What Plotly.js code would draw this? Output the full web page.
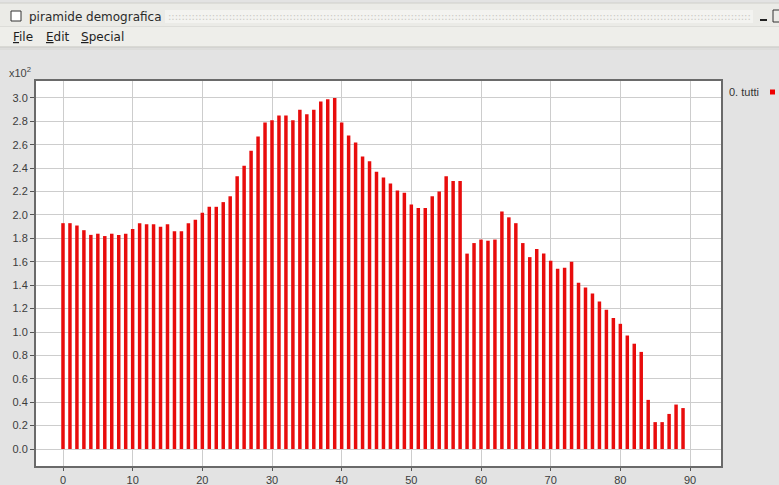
<!DOCTYPE html>
<html>
<head>
<meta charset="utf-8">
<script src="https://cdn.plot.ly/plotly-3.0.1.min.js"></script>
<style>html,body{margin:0;padding:0;background:#e3e3e3;overflow:hidden}#chart{width:779px;height:485px}</style>
</head>
<body>
<div id="chart"></div>
<script>
// Age classes (x categories)
const ages = [0,1,2,3,4,5,6,7,8,9,10,11,12,13,14,15,16,17,18,19,20,21,22,23,24,25,26,27,28,29,
  30,31,32,33,34,35,36,37,38,39,40,41,42,43,44,45,46,47,48,49,50,51,52,53,54,55,56,57,58,59,
  60,61,62,63,64,65,66,67,68,69,70,71,72,73,74,75,76,77,78,79,80,81,82,83,84,85,86,87,88,89];
// Population per age, in units of 10^2 (series "0. tutti")
const tutti = [1.93,1.93,1.91,1.87,1.83,1.84,1.82,1.84,1.83,1.84,
  1.88,1.93,1.92,1.92,1.90,1.92,1.86,1.86,1.93,1.96,
  2.02,2.07,2.07,2.11,2.16,2.33,2.42,2.55,2.67,2.79,
  2.81,2.85,2.85,2.81,2.90,2.86,2.90,2.97,2.99,3.00,
  2.79,2.68,2.62,2.50,2.46,2.37,2.32,2.27,2.21,2.19,
  2.09,2.06,2.06,2.16,2.20,2.33,2.29,2.29,1.67,1.76,
  1.79,1.78,1.79,2.03,1.98,1.93,1.76,1.64,1.71,1.67,
  1.61,1.54,1.55,1.60,1.42,1.38,1.33,1.26,1.19,1.12,
  1.07,0.97,0.90,0.83,0.42,0.23,0.23,0.30,0.38,0.35];
const xTicks = [0,10,20,30,40,50,60,70,80,90];
const yTicks = [0,0.2,0.4,0.6,0.8,1.0,1.2,1.4,1.6,1.8,2.0,2.2,2.4,2.6,2.8,3.0];
const yTickText = ['0.0','0.2','0.4','0.6','0.8','1.0','1.2','1.4','1.6','1.8','2.0','2.2','2.4','2.6','2.8','3.0'];
const seriesName = '0. tutti';
const windowTitle = 'piramide demografica';
const menuItems = ['<u>F</u>ile','<u>E</u>dit','<u>S</u>pecial'];

const W = 779, H = 485;
const M = {l:36, r:58, t:81, b:19};
const pw = W - M.l - M.r, ph = H - M.t - M.b;
const PX = x => (x - M.l) / pw;
const PY = y => (H - M.b - y) / ph;

const font = 'Liberation Sans, Arial, sans-serif';
const uiFont = 'DejaVu Sans, sans-serif';

const shapes = [
  // title bar
  {type:'rect', xref:'paper', yref:'paper', x0:PX(-2), x1:PX(W+2), y0:PY(3), y1:PY(27), fillcolor:'#ebebe7', line:{color:'#cfcfca', width:1}, layer:'below'},
  // dotted band
  {type:'rect', xref:'paper', yref:'paper', x0:PX(165), x1:PX(753), y0:PY(10), y1:PY(23), fillcolor:'#f3f3f0', line:{width:0}, layer:'below'},
  // checkbox
  {type:'rect', xref:'paper', yref:'paper', x0:PX(11), x1:PX(21), y0:PY(11), y1:PY(21), fillcolor:'#ffffff', line:{color:'#333333', width:1}},
  // right-hand window button (partial)
  {type:'rect', xref:'paper', yref:'paper', x0:PX(773), x1:PX(785), y0:PY(10), y1:PY(22), fillcolor:'rgba(0,0,0,0)', line:{color:'#333333', width:1}},
  {type:'line', xref:'paper', yref:'paper', x0:PX(760), x1:PX(767), y0:PY(20), y1:PY(20), line:{color:'#222222', width:2}},
  // menu bar
  {type:'rect', xref:'paper', yref:'paper', x0:PX(-2), x1:PX(W+2), y0:PY(27), y1:PY(47), fillcolor:'#eeeeea', line:{width:0}, layer:'below'},
  {type:'line', xref:'paper', yref:'paper', x0:PX(0), x1:PX(W), y0:PY(47), y1:PY(47), line:{color:'#c4c4bf', width:1}},
  {type:'line', xref:'paper', yref:'paper', x0:PX(0), x1:PX(W), y0:PY(49), y1:PY(49), line:{color:'#d6d6d2', width:1}},
  // legend swatch
  {type:'rect', xref:'paper', yref:'paper', x0:PX(770), x1:PX(775), y0:PY(89.5), y1:PY(94.5), fillcolor:'#ee0000', line:{width:0}}
];

let dots = '';
for (let i = 0; i < 173; i++) dots += ':';

const annotations = [
  {xref:'paper', yref:'paper', x:PX(27), y:PY(17), xanchor:'left', yanchor:'middle', showarrow:false, text:windowTitle, font:{family:uiFont, size:12, color:'#2a2a2a'}},
  {xref:'paper', yref:'paper', x:PX(166), y:PY(16.5), xanchor:'left', yanchor:'middle', showarrow:false, text:dots, font:{family:uiFont, size:10, color:'#c9c9c4'}},
  {xref:'paper', yref:'paper', x:PX(11), y:PY(37), xanchor:'left', yanchor:'middle', showarrow:false, text:menuItems[0], font:{family:uiFont, size:12, color:'#1e1e1e'}},
  {xref:'paper', yref:'paper', x:PX(44), y:PY(37), xanchor:'left', yanchor:'middle', showarrow:false, text:menuItems[1], font:{family:uiFont, size:12, color:'#1e1e1e'}},
  {xref:'paper', yref:'paper', x:PX(79), y:PY(37), xanchor:'left', yanchor:'middle', showarrow:false, text:menuItems[2], font:{family:uiFont, size:12, color:'#1e1e1e'}},
  {xref:'paper', yref:'paper', x:PX(7), y:PY(72), xanchor:'left', yanchor:'middle', showarrow:false, text:'x10<sup>2</sup>', font:{family:font, size:11, color:'#444444'}},
  {xref:'paper', yref:'paper', x:PX(727), y:PY(92), xanchor:'left', yanchor:'middle', showarrow:false, text:seriesName, font:{family:font, size:11, color:'#333333'}}
];

const trace = {
  type:'bar', x:ages, y:tutti, name:seriesName,
  width:0.5,
  marker:{color:'#e80c0c', line:{width:0}},
  hoverinfo:'x+y', showlegend:false
};

const layout = {
  width:W, height:H, margin:M,
  paper_bgcolor:'#e3e3e3', plot_bgcolor:'#ffffff',
  bargap:0.3,
  xaxis:{range:[-3.875,94.45], tickmode:'array', tickvals:xTicks, ticktext:xTicks.map(String),
    showgrid:true, gridcolor:'#cdcdcd', gridwidth:1, zeroline:false,
    showline:true, linecolor:'#6a6a6a', linewidth:2, mirror:true,
    ticks:'outside', ticklen:3, tickcolor:'#555555',
    tickfont:{family:font, size:11, color:'#3c3c3c'}, fixedrange:true},
  yaxis:{range:[-0.145,3.145], tickmode:'array', tickvals:yTicks, ticktext:yTickText,
    showgrid:true, gridcolor:'#cdcdcd', gridwidth:1, zeroline:false,
    showline:true, linecolor:'#6a6a6a', linewidth:2, mirror:true,
    ticks:'outside', ticklen:4, tickcolor:'#555555',
    tickfont:{family:font, size:11, color:'#3c3c3c'}, fixedrange:true},
  shapes:shapes, annotations:annotations, showlegend:false
};

Plotly.newPlot('chart', [trace], layout, {displayModeBar:false, staticPlot:true});
</script>
</body>
</html>
